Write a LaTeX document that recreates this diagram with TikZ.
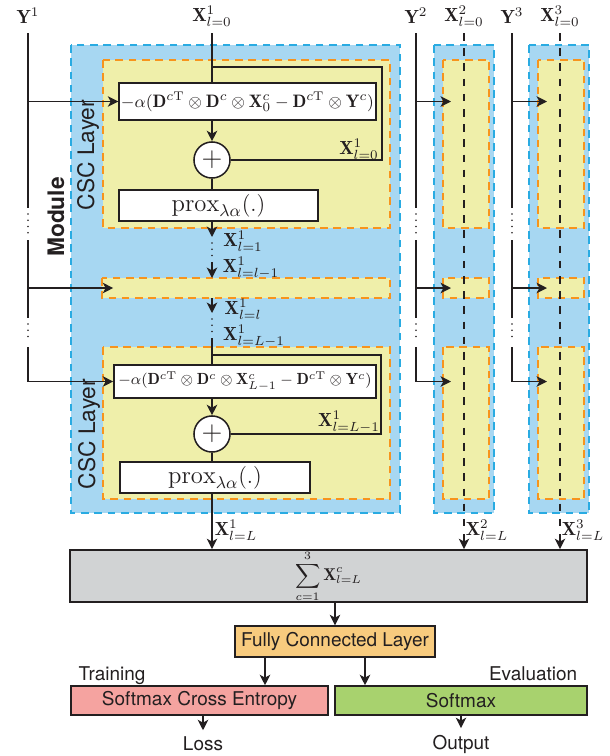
\documentclass[tikz,border=0pt]{standalone}
\usepackage{amsmath}
\usepackage{fontspec}
\setsansfont{TeX Gyre Heros}
\usetikzlibrary{arrows.meta,positioning}

\definecolor{modblue}{RGB}{167,215,242}
\definecolor{modedge}{RGB}{41,171,226}
\definecolor{cscfill}{RGB}{239,239,170}
\definecolor{cscedge}{RGB}{247,148,29}
\definecolor{sumgray}{RGB}{209,211,212}
\definecolor{fcorange}{RGB}{248,203,126}
\definecolor{losspink}{RGB}{245,163,160}
\definecolor{outgreen}{RGB}{168,210,110}
\definecolor{ink}{RGB}{35,31,32}

\tikzstyle{modbox} = [fill=modblue, draw=modedge, line width=0.8pt, dash pattern=on 4pt off 3pt]
\tikzstyle{cscbox} = [fill=cscfill, draw=cscedge, line width=0.8pt, dash pattern=on 4pt off 3pt]
\tikzstyle{op} = [rectangle, draw=ink, fill=white, line width=0.8pt, inner sep=0pt]
\tikzstyle{add} = [circle, draw=ink, fill=white, line width=0.8pt, minimum size=19pt, inner sep=0pt]
\tikzstyle{blk} = [rectangle, draw=ink, line width=0.8pt, inner sep=0pt, font=\sffamily]
\tikzstyle{wire} = [draw=ink, line width=0.8pt]
\tikzstyle{flow} = [wire, ->]
\tikzstyle{colline} = [wire, dash pattern=on 4pt off 4pt]
\tikzstyle{vdots} = [draw=ink, line width=1pt, line cap=round, dash pattern=on 0pt off 3.3pt]
\tikzstyle{sidelabel} = [rotate=90, font=\sffamily\large]

\newcommand{\proxop}{\fontsize{13}{15}\selectfont$\mathrm{prox}_{\lambda\alpha}(.)$}

\begin{document}
\begin{tikzpicture}[x=0.527pt, y=-0.527pt, text=ink, >={Stealth[length=5.5pt,width=5.5pt,inset=1.5pt]}]
\useasboundingbox (0,0) rectangle (610,756);

% modules c=1,2,3 and their CSC layers
\draw[modbox] (71,45) rectangle (400,513);
\draw[cscbox] (103,60) rectangle (390,228);
\draw[cscbox] (102,278) rectangle (390,298);
\draw[cscbox] (103,347) rectangle (390,499);

\draw[modbox] (434,45) rectangle (494,513);
\draw[cscbox] (443,60) rectangle (489,228);
\draw[cscbox] (443,278) rectangle (489,298);
\draw[cscbox] (443,347) rectangle (489,499);

\draw[modbox] (529,45) rectangle (589,513);
\draw[cscbox] (538,60) rectangle (584,228);
\draw[cscbox] (538,278) rectangle (584,298);
\draw[cscbox] (538,347) rectangle (584,499);

\node[sidelabel] (csc1) at (88,155) {CSC Layer};
\node[sidelabel] (csc2) at (89,434) {CSC Layer};
\node[sidelabel, font=\sffamily\large\bfseries] (mod) at (56,217) {Module};

% inputs
\node (y1) at (28,16) {$\mathbf{Y}^1$};
\node (y2) at (416,16) {$\mathbf{Y}^2$};
\node (y3) at (512,16) {$\mathbf{Y}^3$};
\node (x10) at (212,16) {$\mathbf{X}^1_{l=0}$};
\node (x20) at (464,16) {$\mathbf{X}^2_{l=0}$};
\node (x30) at (560,16) {$\mathbf{X}^3_{l=0}$};

% first CSC layer
\node[op, minimum width=135.4pt, minimum height=19.5pt, font=\fontsize{9.5}{11}\selectfont] (f1) at (247.5,101.5)
  {$-\alpha(\mathbf{D}^{c\mathrm{T}}\otimes\mathbf{D}^{c}\otimes\mathbf{X}^{c}_{0}-\mathbf{D}^{c\mathrm{T}}\otimes\mathbf{Y}^{c})$};
\node[add] (p1) at (212,160) {\Large$+$};
\node[op, minimum width=104.9pt, minimum height=16.3pt] (pr1) at (218.5,205.5) {\proxop};
\node[inner sep=1pt] (fb1) at (359,149) {$\mathbf{X}^1_{l=0}$};

% last CSC layer
\node[op, minimum width=138.1pt, minimum height=17.4pt, font=\fontsize{8.5}{10}\selectfont] (f2) at (245,381.5)
  {$-\alpha(\mathbf{D}^{c\mathrm{T}}\otimes\mathbf{D}^{c}\otimes\mathbf{X}^{c}_{L-1}-\mathbf{D}^{c\mathrm{T}}\otimes\mathbf{Y}^{c})$};
\node[add] (p2) at (212,434) {\Large$+$};
\node[op, minimum width=100.1pt, minimum height=16.3pt] (pr2) at (215,477.5) {\proxop};
\node[inner sep=1pt] (fb2) at (349,422) {$\mathbf{X}^1_{l=L-1}$};

% head
\node[blk, fill=sumgray, minimum width=272.5pt, minimum height=27.4pt] (S) at (328.5,576)
  {\small$\displaystyle\sum_{c=1}^{3}\mathbf{X}^{c}_{l=L}$};
\node[blk, fill=fcorange, minimum width=105.4pt, minimum height=16.3pt] (fc) at (335,641.5) {Fully Connected Layer};
\node[blk, fill=losspink, minimum width=135.4pt, minimum height=15.3pt] (sce) at (199.5,700.5) {Softmax Cross Entropy};
\node[blk, fill=outgreen, minimum width=132.8pt, minimum height=15.3pt] (sm) at (461,700.5) {Softmax};
\node[font=\sffamily, anchor=base west] (train) at (72,680) {Training};
\node[font=\sffamily, anchor=base east] (eval) at (584,680) {Evaluation};
\node[font=\sffamily] (loss) at (203,744) {Loss};
\node[font=\sffamily] (out) at (461,744) {Output};

% levels used by the input lines
\coordinate (top) at (0,33);
\coordinate (g1) at (0,208);
\coordinate (g1d) at (0,214);
\coordinate (g2d) at (0,234);
\coordinate (g2) at (0,240);
\coordinate (g3) at (0,318);
\coordinate (g3d) at (0,324);
\coordinate (g4d) at (0,342);
\coordinate (g4) at (0,347);
\coordinate (lvB) at (0,288);
\coordinate (t2) at (451,0);
\coordinate (t3) at (547,0);
\coordinate (k1) at (265,0);
\coordinate (k2) at (365,0);

% main path of module 1
\coordinate (j1) at (212,67);
\coordinate (r1) at (382,67);
\coordinate (a1) at (212,237);
\coordinate (a1d) at (212,243);
\coordinate (a2d) at (212,257);
\coordinate (a2) at (212,262);
\coordinate (a3) at (212,278);
\coordinate (a4) at (212,298);
\coordinate (a5) at (212,313);
\coordinate (a5d) at (212,319);
\coordinate (a6d) at (212,333);
\coordinate (a6) at (212,338);
\coordinate (j2) at (212,355);
\coordinate (r2) at (381,355);

\draw[wire] (x10) -- (f1.north -| x10);
\draw[wire] (j1) -- (r1) |- (p1);
\draw[flow] (f1.south -| p1) -- (p1);
\draw[wire] (p1) -- (pr1.north -| p1);
\draw[flow] (pr1.south -| p1) -- (a1);
\draw[vdots] (a1d) -- (a2d);
\draw[flow] (a2) -- (a3);
\draw[flow] (a4) -- (a5);
\draw[vdots] (a5d) -- (a6d);
\draw[wire] (a6) -- (f2.north -| a6);
\draw[wire] (j2) -- (r2) |- (p2);
\draw[flow] (f2.south -| p2) -- (p2);
\draw[wire] (p2) -- (pr2.north -| p2);
\draw[flow] (pr2.south -| p2) -- (S.north -| p2);

\node[inner sep=1pt] (x11) at (243,241) {$\mathbf{X}^1_{l=1}$};
\node[inner sep=1pt] (x1a) at (251,268) {$\mathbf{X}^1_{l=l-1}$};
\node[inner sep=1pt] (x1b) at (243,309) {$\mathbf{X}^1_{l=l}$};
\node[inner sep=1pt] (x1c) at (254,336) {$\mathbf{X}^1_{l=L-1}$};
\node[inner sep=1pt] (x1L) at (236,530) {$\mathbf{X}^1_{l=L}$};

% Y^1
\draw[wire] (y1 |- top) -- (y1 |- g1);
\draw[vdots] (y1 |- g1d) -- (y1 |- g2d);
\draw[wire] (y1 |- g2) -- (y1 |- g3);
\draw[vdots] (y1 |- g3d) -- (y1 |- g4d);
\draw[flow] (y1 |- g4) |- (f2.west);
\draw[flow] (y1 |- f1.west) -- (f1.west);
\draw[flow] (y1 |- lvB) -- (f2.west |- lvB);

% Y^2
\draw[wire] (y2 |- top) -- (y2 |- g1);
\draw[vdots] (y2 |- g1d) -- (y2 |- g2d);
\draw[wire] (y2 |- g2) -- (y2 |- g3);
\draw[vdots] (y2 |- g3d) -- (y2 |- g4d);
\draw[flow] (y2 |- g4) |- (t2 |- f2.west);
\draw[flow] (y2 |- f1.west) -- (t2 |- f1.west);
\draw[flow] (y2 |- lvB) -- (t2 |- lvB);

% Y^3
\draw[wire] (y3 |- top) -- (y3 |- g1);
\draw[vdots] (y3 |- g1d) -- (y3 |- g2d);
\draw[wire] (y3 |- g2) -- (y3 |- g3);
\draw[vdots] (y3 |- g3d) -- (y3 |- g4d);
\draw[flow] (y3 |- g4) |- (t3 |- f2.west);
\draw[flow] (y3 |- f1.west) -- (t3 |- f1.west);
\draw[flow] (y3 |- lvB) -- (t3 |- lvB);

% modules 2 and 3 in short
\draw[colline, ->] (x20) -- (x20 |- S.north);
\draw[colline, ->] (x30) -- (x30 |- S.north);
\node[inner sep=1pt] (x2L) at (487,530) {$\mathbf{X}^2_{l=L}$};
\node[inner sep=1pt] (x3L) at (583,530) {$\mathbf{X}^3_{l=L}$};

% classifier
\draw[flow] (S.south -| fc) -- (fc);
\draw[flow] (k1 |- fc.south) -- (k1 |- sce.north);
\draw[flow] (k2 |- fc.south) -- (k2 |- sm.north);
\draw[flow] (sce.south -| loss) -- (loss);
\draw[flow] (sm) -- (out);

\end{tikzpicture}
\end{document}
